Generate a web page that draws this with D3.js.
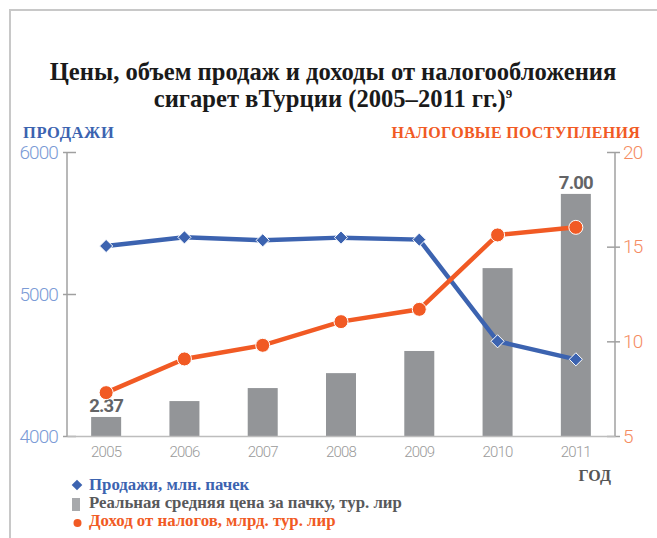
<!DOCTYPE html>
<head>
  <meta charset="utf-8">
  <title>Сигареты в Турции</title>
  <style>
      body { margin: 0; background: #fff; }
      .serif { font-family: "Liberation Serif", "DejaVu Serif", serif; font-weight: bold; }
      .cond { font-family: Roboto, "Liberation Sans", sans-serif; font-weight: 300; }
  </style>
  <script src="https://d3js.org/d3.v7.js"></script>
</head>
<body>
<div id="chart"></div>
<script>
    // data
    const years = ["2005", "2006", "2007", "2008", "2009", "2010", "2011"];
    const sales = [5338, 5399, 5378, 5397, 5383, 4667, 4540];          // млн. пачек
    const price = [2.37, 2.70, 2.97, 3.28, 3.74, 5.46, 7.00];          // тур. лир
    const taxRevenue = [7.29, 9.07, 9.79, 11.04, 11.69, 15.62, 16.02]; // млрд. тур. лир
    const salesTicks = [4000, 5000, 6000];
    const taxTicks = [5, 10, 15, 20];
    const priceLabels = [0, 6]; // indexes of bars that get a value label

    const blue = "#3c63b0", orange = "#f15a24", barGrey = "#939598";

    const W = 657, H = 538;
    const plotL = 67, plotR = 615, plotT = 152, plotB = 436;

    const svg = d3.select("#chart").append("svg")
        .attr("width", W).attr("height", H);

    // frame
    svg.append("path")
        .attr("d", `M10,${H} L10,10 L${W},10`)
        .attr("fill", "none").attr("stroke", "#c8c8c8").attr("stroke-width", 2);

    // scales
    const x = d3.scaleBand().domain(years).range([plotL, plotR]);
    const ySales = d3.scaleLinear().domain([4000, 6000]).range([plotB, plotT]);
    const yTax = d3.scaleLinear().domain([5, 20]).range([plotB, plotT]);
    // bars sit on their own scale (baseline is not zero in the original)
    const yPrice = d3.scaleLinear().domain([1.975, 7.87]).range([plotB, plotT]);
    const cx = d => x(d) + x.bandwidth() / 2;
    const barW = 30;

    // title
    const title = svg.append("text").attr("class", "serif")
        .attr("text-anchor", "middle").attr("font-size", 24.6).attr("fill", "#1a1a1a");
    title.append("tspan").attr("x", 333).attr("y", 80)
        .text("Цены, объем продаж и доходы от налогообложения");
    title.append("tspan").attr("x", 333).attr("y", 107)
        .text("сигарет вТурции (2005–2011 гг.)")
        .append("tspan").attr("dy", -9).attr("font-size", 13).text("9");

    svg.append("text").attr("class", "serif").attr("x", 23).attr("y", 138)
        .attr("font-size", 16.5).attr("fill", blue).attr("letter-spacing", 0.6).text("ПРОДАЖИ");
    svg.append("text").attr("class", "serif").attr("x", 640).attr("y", 138)
        .attr("text-anchor", "end").attr("font-size", 16).attr("fill", orange)
        .attr("letter-spacing", 0.3).text("НАЛОГОВЫЕ ПОСТУПЛЕНИЯ");

    // bars
    svg.append("g").selectAll("rect")
        .data(years)
        .join("rect")
        .attr("x", d => cx(d) - barW / 2)
        .attr("y", (d, i) => yPrice(price[i]))
        .attr("width", barW)
        .attr("height", (d, i) => plotB - yPrice(price[i]))
        .attr("fill", barGrey);

    svg.append("g").selectAll("text")
        .data(priceLabels)
        .join("text")
        .attr("x", i => cx(years[i]))
        .attr("y", i => yPrice(price[i]) - 5)
        .attr("text-anchor", "middle")
        .attr("font-family", "Roboto, 'Liberation Sans', sans-serif")
        .attr("font-weight", "bold").attr("font-size", 18.5)
        .attr("letter-spacing", -0.8)
        .attr("fill", "#636466")
        .text(i => price[i].toFixed(2));

    // left axis
    const axL = svg.append("g").attr("transform", `translate(${plotL},0)`)
        .call(d3.axisLeft(ySales).tickValues(salesTicks).tickFormat(d3.format("d"))
            .tickSize(4).tickPadding(5));
    axL.select(".domain").remove();
    axL.selectAll(".tick line").attr("x1", 9).attr("stroke", "#a0a0a0").attr("stroke-width", 1.5);
    axL.selectAll(".tick text").attr("class", "cond").attr("font-size", 19)
        .attr("letter-spacing", -0.9).attr("fill", "#7b9bd6");
    svg.append("line").attr("x1", plotL).attr("x2", plotL).attr("y1", plotT).attr("y2", plotB)
        .attr("stroke", "#a0a0a0").attr("stroke-width", 1.5);

    // right axis
    const axR = svg.append("g").attr("transform", `translate(${plotR},0)`)
        .call(d3.axisRight(yTax).tickValues(taxTicks).tickSize(5).tickPadding(3));
    axR.select(".domain").remove();
    axR.selectAll(".tick line").attr("x1", -8).attr("stroke", "#a0a0a0").attr("stroke-width", 1.5);
    axR.selectAll(".tick text").attr("class", "cond").attr("font-size", 19)
        .attr("letter-spacing", -0.9).attr("fill", "#f58c62");
    svg.append("line").attr("x1", plotR).attr("x2", plotR).attr("y1", plotT).attr("y2", plotB)
        .attr("stroke", "#a0a0a0").attr("stroke-width", 1.5);

    // bottom axis
    const axB = svg.append("g").attr("transform", `translate(0,${plotB})`)
        .call(d3.axisBottom(x).tickSize(0).tickPadding(10));
    axB.select(".domain").attr("stroke", "#bdbdbd").attr("stroke-width", 1.5);
    axB.selectAll(".tick text").attr("class", "cond").attr("font-size", 15)
        .attr("letter-spacing", -0.8).attr("fill", "#9a9a9a");

    // sales line
    svg.append("path")
        .datum(sales)
        .attr("fill", "none").attr("stroke", blue).attr("stroke-width", 4.5)
        .attr("d", d3.line().x((d, i) => cx(years[i])).y(d => ySales(d)));
    svg.append("g").selectAll("path")
        .data(sales)
        .join("path")
        .attr("d", d3.symbol(d3.symbolDiamond2, 110))
        .attr("transform", (d, i) => `translate(${cx(years[i])},${ySales(d)})`)
        .attr("fill", blue).attr("stroke", "#fff").attr("stroke-width", 1);

    // tax revenue line
    svg.append("path")
        .datum(taxRevenue)
        .attr("fill", "none").attr("stroke", orange).attr("stroke-width", 4.5)
        .attr("d", d3.line().x((d, i) => cx(years[i])).y(d => yTax(d)));
    svg.append("g").selectAll("circle")
        .data(taxRevenue)
        .join("circle")
        .attr("cx", (d, i) => cx(years[i]))
        .attr("cy", d => yTax(d))
        .attr("r", 7)
        .attr("fill", orange).attr("stroke", "#fff").attr("stroke-width", 1);

    // ГОД
    svg.append("text").attr("class", "serif").attr("x", 611).attr("y", 481)
        .attr("text-anchor", "end").attr("font-size", 16).attr("fill", "#555")
        .text("ГОД");

    // legend
    const lg = svg.append("g").attr("class", "serif").attr("font-size", 16.8);
    lg.append("path").attr("d", d3.symbol(d3.symbolDiamond2, 72))
        .attr("transform", "translate(77,485)").attr("fill", blue);
    lg.append("text").attr("x", 89).attr("y", 490).attr("fill", blue).text("Продажи, млн. пачек");
    lg.append("rect").attr("x", 72).attr("y", 498).attr("width", 8).attr("height", 13).attr("fill", "#a7a9ac");
    lg.append("text").attr("x", 89).attr("y", 508).attr("fill", "#58595b")
        .text("Реальная средняя цена за пачку, тур. лир");
    lg.append("circle").attr("cx", 77.5).attr("cy", 523).attr("r", 4).attr("fill", orange);
    lg.append("text").attr("x", 89).attr("y", 526).attr("fill", orange)
        .text("Доход от налогов, млрд. тур. лир");
</script>
</body>
